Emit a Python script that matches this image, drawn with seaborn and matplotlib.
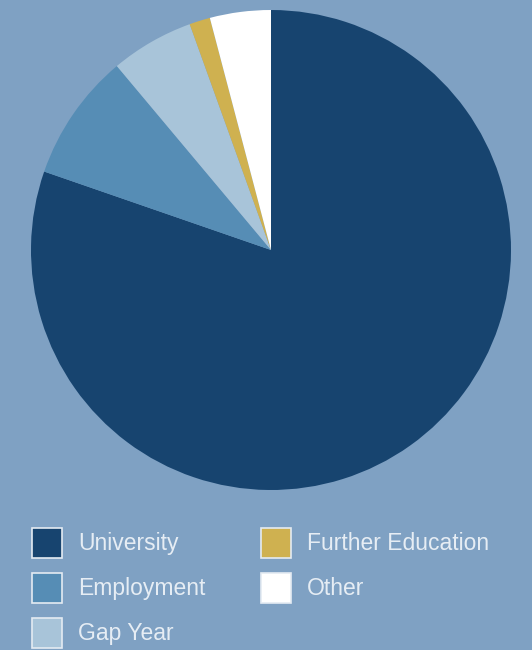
import matplotlib
matplotlib.use("Agg")
import matplotlib.pyplot as plt
import seaborn as sns
from matplotlib.patches import Patch

categories = ["University", "Employment", "Gap Year", "Further Education", "Other"]
values = [80.3, 8.6, 5.6, 1.4, 4.1]
colors = ["#17446f", "#568db5", "#a8c4d9", "#cfb150", "#ffffff"]
bg = "#7fa1c3"

sns.set_theme(style="white")
plt.rcParams["font.family"] = ["Liberation Sans", "DejaVu Sans"]

fig = plt.figure(figsize=(5.32, 6.5), dpi=100, facecolor=bg)
ax = fig.add_axes([31/532, (650-490)/650, 480/532, 480/650])
ax.set_facecolor(bg)
ax.pie(values, colors=colors, startangle=90, counterclock=False,
       wedgeprops=dict(linewidth=0))
ax.set_xlim(-1, 1)
ax.set_ylim(-1, 1)
ax.set_aspect("equal")
ax.axis("off")

fs = 16.5
px = fs * 100 / 72
hh = (30 / px - 0.245) / 0.65
handles = [Patch(facecolor=c, edgecolor="#e4ebf2", linewidth=1.2) for c in colors]
leg = fig.legend(handles, categories, ncol=2, loc="upper left",
                 bbox_to_anchor=(32/532, 1 - 528/650), frameon=False,
                 fontsize=fs, labelcolor="#e6edf4",
                 handlelength=30/px, handleheight=hh,
                 handletextpad=16/px, labelspacing=15/px,
                 columnspacing=56/px, borderaxespad=0, borderpad=0)

fig.savefig("out.png", dpi=100, facecolor=bg)
